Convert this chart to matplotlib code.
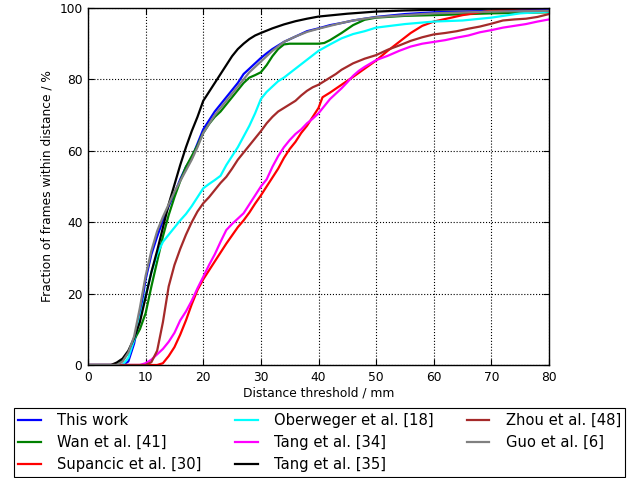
import matplotlib
matplotlib.use("Agg")
import matplotlib.pyplot as plt

labels = ["This work", "Wan et al. [41]", "Supancic et al. [30]",
          "Oberweger et al. [18]", "Tang et al. [34]", "Tang et al. [35]",
          "Zhou et al. [48]", "Guo et al. [6]"]
colors = ["blue", "green", "red", "cyan", "magenta", "black", "brown", "gray"]

blue_x = [0, 6, 7, 8, 9, 10, 11, 12, 13, 14, 15, 16, 17, 18, 19, 20, 21, 22, 23, 24, 25, 26, 27, 28, 29, 30, 31, 32, 34, 36, 38, 40, 42, 44, 46, 48, 50, 55, 60, 70, 80]
blue_y = [0, 0, 1, 6, 14, 24, 31, 36, 40.5, 44.5, 48, 52, 55.5, 58, 62, 66, 68.5, 71, 73, 75, 77, 79, 81.5, 83, 84.5, 86, 87.3, 88.5, 90.5, 92, 93.5, 94.3, 95.2, 95.8, 96.5, 97, 97.5, 98.3, 98.8, 99.2, 99.5]

green_x = [0, 5, 6, 7, 8, 9, 10, 11, 12, 13, 14, 15, 16, 17, 18, 19, 20, 21, 22, 23, 24, 25, 26, 27, 28, 29, 30, 31, 32, 33, 34, 35, 40, 41, 42, 44, 46, 48, 50, 55, 60, 70, 80]
green_y = [0, 0, 1.2, 3.5, 7, 10, 14.5, 22, 29, 36, 42, 47, 51.5, 55.5, 58.5, 61.5, 65, 67.5, 69.5, 71, 73, 75, 77, 79, 80.5, 81.2, 82, 84, 86.5, 88.5, 89.8, 90, 90, 90.2, 91, 93, 95.2, 96.7, 97.3, 97.8, 98, 98.5, 98.8]

red_x = [0, 12, 13, 14, 15, 16, 17, 18, 19, 20, 21, 22, 23, 24, 25, 26, 27, 28, 29, 30, 31, 32, 33, 34, 35, 36, 37, 38, 39, 40, 40.7, 42, 44, 46, 48, 50, 52, 54, 56, 58, 60, 65, 70, 75, 80]
red_y = [0, 0, 0.5, 2.5, 5, 8.5, 12.5, 17, 21, 24, 26.5, 29, 31.5, 34, 36.3, 38.6, 40.5, 42.7, 45.2, 47.5, 50, 52.5, 55, 58, 60.5, 62.5, 65, 67, 69.5, 72, 75, 76.3, 78.5, 80.7, 83, 85.3, 88, 90.5, 93, 95, 96.2, 98, 99.3, 99.9, 100]

cyan_x = [0, 6, 7, 8, 9, 10, 11, 12, 13, 14, 15, 16, 17, 18, 19, 20, 21, 22, 23, 24, 25, 26, 27, 28, 29, 30, 31, 32, 33, 34, 36, 38, 40, 42, 44, 46, 48, 50, 55, 60, 65, 70, 75, 80]
cyan_y = [0, 0, 2, 7, 13, 19.5, 26, 31, 34.5, 36.5, 38.5, 40.5, 42.3, 44.5, 47, 49.5, 50.7, 51.8, 53, 56, 58.5, 61, 64, 67, 70.5, 74.5, 76.5, 78, 79.5, 80.5, 83, 85.5, 88, 89.8, 91.5, 92.7, 93.5, 94.5, 95.5, 96.2, 96.5, 97.3, 98.5, 99]

magenta_x = [0, 9, 10, 11, 12, 13, 14, 15, 16, 17, 18, 19, 20, 21, 22, 23, 24, 25, 26, 27, 28, 29, 30, 31, 32, 33, 34, 35, 36, 37, 38, 39, 40, 41, 42, 43, 44, 45, 46, 47, 48, 50, 52, 54, 56, 58, 60, 62, 64, 66, 68, 70, 72, 74, 76, 78, 80]
magenta_y = [0, 0, 0.5, 1.5, 3, 4.5, 6.5, 9, 12.5, 15, 18, 21.5, 24.7, 28, 31, 34.5, 37.8, 39.5, 41, 42.5, 45, 47.5, 50, 52, 55.5, 58.5, 61, 63, 64.7, 66, 67.7, 69, 70.5, 72.5, 74.5, 76, 77.5, 79.2, 81, 82.4, 83.5, 85.4, 86.6, 88, 89.2, 90, 90.5, 91, 91.7, 92.3, 93.2, 93.8, 94.5, 95, 95.5, 96.2, 96.8]

black_x = [0, 4, 5, 6, 7, 8, 9, 10, 11, 12, 13, 14, 15, 16, 17, 18, 19, 20, 21, 22, 23, 24, 25, 26, 27, 28, 29, 30, 32, 34, 36, 38, 40, 45, 50, 55, 60, 70, 80]
black_y = [0, 0, 0.7, 1.8, 4, 7.5, 12, 19, 26, 32, 38.5, 45, 50.5, 56, 61, 65.5, 69.5, 74, 76.5, 79, 81.5, 84, 86.5, 88.5, 90, 91.3, 92.3, 93, 94.3, 95.4, 96.3, 97, 97.6, 98.4, 99, 99.3, 99.5, 99.8, 100]

brown_x = [0, 10, 11, 12, 13, 14, 15, 16, 17, 18, 19, 20, 21, 22, 23, 24, 25, 26, 27, 28, 29, 30, 31, 32, 33, 34, 35, 36, 37, 38, 39, 40, 41, 42, 43, 44, 45, 46, 48, 50, 52, 54, 56, 58, 60, 62, 64, 66, 68, 70, 72, 74, 76, 78, 80]
brown_y = [0, 0, 0.8, 4, 12, 22, 28, 32.5, 36.5, 40, 43, 45.3, 47, 49, 51, 52.7, 55, 57.5, 59.5, 61.5, 63.5, 65.5, 67.7, 69.5, 71, 72, 73, 74, 75.5, 76.8, 77.8, 78.5, 79.5, 80.5, 81.5, 82.7, 83.6, 84.5, 85.8, 86.8, 88.3, 89.5, 90.8, 91.8, 92.6, 93, 93.5, 94.2, 94.8, 95.6, 96.5, 96.8, 97, 97.5, 98.3]

gray_x = [0, 5, 6, 7, 8, 9, 10, 11, 12, 13, 14, 15, 16, 17, 18, 19, 20, 21, 22, 23, 24, 25, 26, 27, 28, 29, 30, 31, 32, 34, 36, 38, 40, 42, 44, 46, 48, 50, 55, 60, 70, 80]
gray_y = [0, 0, 1, 3.5, 8, 16, 25, 32, 37.5, 41.5, 45, 48.5, 51.5, 54.5, 57.5, 61, 65, 67.5, 70, 72, 74, 76, 78, 80, 82, 83.5, 85, 86.5, 88, 90.5, 92, 93.3, 94.2, 95, 95.8, 96.5, 97, 97.4, 98, 98.5, 99, 99.2]

series = [(blue_x, blue_y), (green_x, green_y), (red_x, red_y), (cyan_x, cyan_y),
          (magenta_x, magenta_y), (black_x, black_y), (brown_x, brown_y), (gray_x, gray_y)]

fs = 8.8
lfs = 10.6
fig = plt.figure(figsize=(6.31, 4.78), dpi=100)
ax = fig.add_axes([88/631, 1 - 365/478, (549-88)/631, (365-8)/478])
for (xs, ys), lab, c in zip(series, labels, colors):
    ax.plot(xs, ys, color=c, lw=1.6, label=lab)

ax.set_xlim(0, 80)
ax.set_ylim(0, 100)
ax.set_xticks(range(0, 81, 10))
ax.set_yticks(range(0, 101, 20))
ax.grid(True, color="black", linestyle=":", linewidth=0.8)
ax.tick_params(direction="in", top=True, right=True, labelsize=fs, length=4, pad=4)
for s in ax.spines.values():
    s.set_linewidth(1.0)
ax.set_xlabel("Distance threshold / mm", fontsize=fs, labelpad=2)
ax.set_ylabel("Fraction of frames within distance / %", fontsize=fs, labelpad=4)

h, l = ax.get_legend_handles_labels()
leg = fig.legend(h, l, loc="upper center", bbox_to_anchor=(319.5/631, 1 - 408/478), ncol=3,
                 fontsize=lfs, fancybox=False, edgecolor="black", framealpha=1,
                 handlelength=1.56, handletextpad=1.09, columnspacing=2.25,
                 borderaxespad=0, borderpad=0.32, labelspacing=0.5)
leg.get_frame().set_linewidth(0.8)

fig.savefig("out.png", dpi=100)
